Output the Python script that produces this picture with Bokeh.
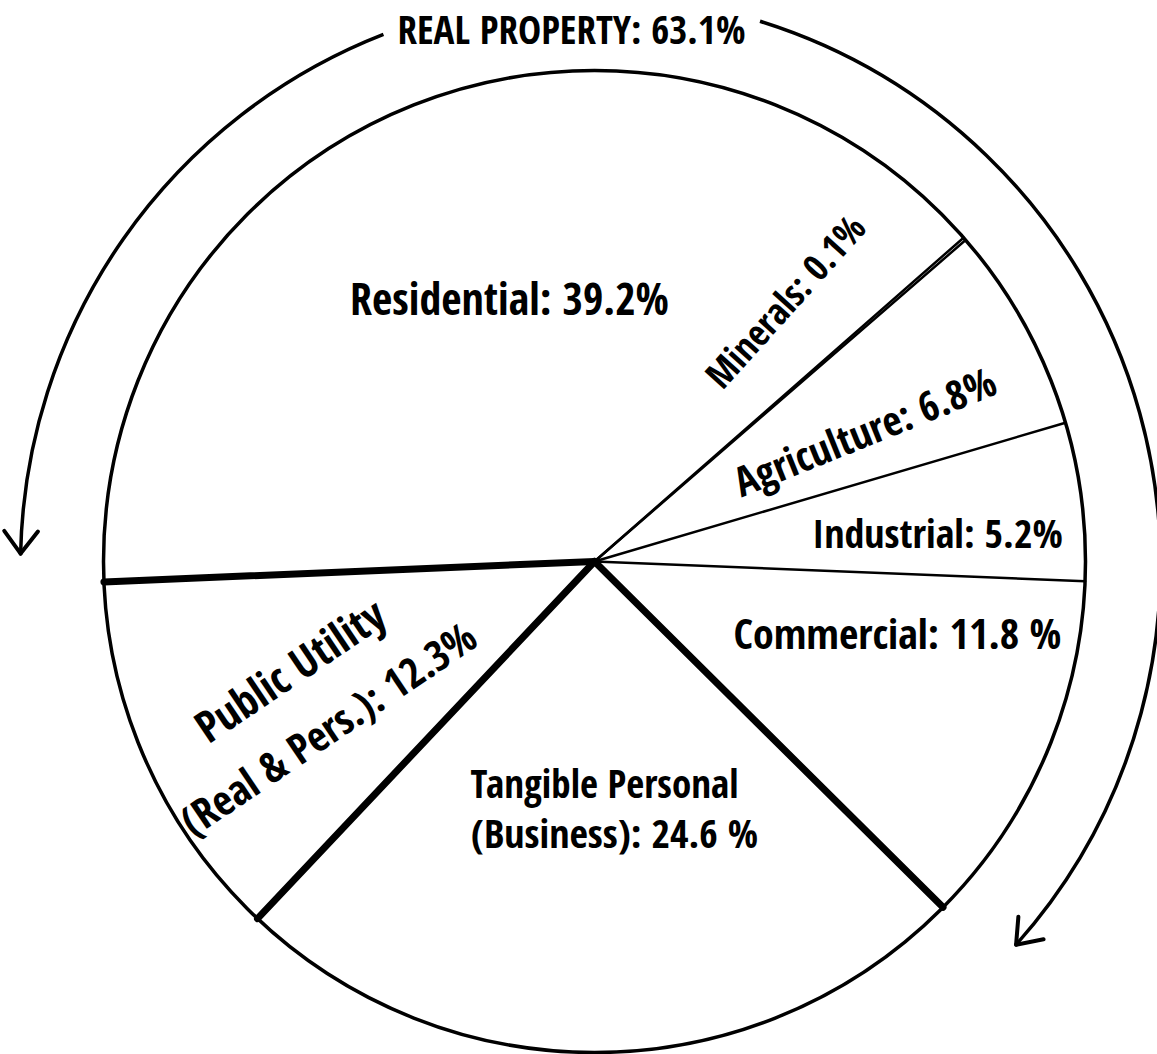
import math
from bokeh.plotting import figure
from bokeh.embed import file_html
from bokeh.resources import INLINE
from bokeh.core.properties import value

# ---- data ----
categories = ["Commercial", "Tangible Personal", "Public Utility", "Residential",
              "Minerals", "Agriculture", "Industrial"]
shares = [11.8, 24.6, 12.3, 39.2, 0.1, 6.8, 5.2]
groups = ["Real", "Personal", "Utility", "Real", "Real", "Real", "Real"]
title_label = "REAL PROPERTY"

# ---- label layout (page pixel coords, rotation in degrees, font px) ----
label_lines = [
    ("Residential: 39.2%", 509, 297, 0, 44),
    ("Minerals: 0.1%", 784, 300, 48, 37),
    ("Agriculture: 6.8%", 864, 430, 22, 41),
    ("Industrial: 5.2%", 937, 532, 0, 40),
    ("Commercial: 11.8 %", 897, 632, 0, 42),
    ("Public Utility", 289, 669, 34, 44),
    ("(Real & Pers.): 12.3%", 327, 727, 34, 42),
    ("Tangible Personal", 604, 782, 0, 39),
    ("(Business): 24.6 %", 614, 832, 0, 40),
]

W, H = 1157, 1054


def Y(py):
    return H - py


FONT = value("Open Sans Condensed")

p = figure(width=W, height=H, x_range=(0, W), y_range=(0, H),
           output_backend="svg", toolbar_location=None,
           x_axis_location=None, y_axis_location=None, min_border=0)
p.grid.visible = False
p.outline_line_color = None
p.background_fill_color = "white"
p.border_fill_color = "white"

# pie geometry
cx, cy, r = 594, Y(561), 491
theta0 = -2.3  # degrees, east boundary

bounds = [theta0]
acc = 0.0
for s in shares:
    acc += s
    bounds.append(theta0 - 3.6 * acc)

# wedges (clockwise order)
p.wedge(x=[cx] * len(shares), y=[cy] * len(shares), radius=r,
        start_angle=[math.radians(b) for b in bounds[1:]],
        end_angle=[math.radians(b) for b in bounds[:-1]],
        direction="anticlock", fill_color="white", line_color=None)

# radial dividers
n = len(shares)
x1s, y1s, widths = [], [], []
for i in range(n):
    b = math.radians(bounds[i])
    bold = groups[i - 1] != groups[i]
    x1s.append(cx + r * math.cos(b))
    y1s.append(cy + r * math.sin(b))
    widths.append(7 if bold else 2.5)
p.segment(x0=[cx] * n, y0=[cy] * n, x1=x1s, y1=y1s, line_width=widths,
          line_color="black", line_cap="round")

# outline circle
p.circle(x=[cx], y=[cy], radius=r, fill_color=None, line_color="black", line_width=3.5)

# outer arrows around real property
ax, ay, R = 590, Y(565), 570
left_start, left_end = 111.3, 178.8
right_start, right_end = 72.7, -41.7
p.arc(x=[ax], y=[ay], radius=R, start_angle=math.radians(left_start),
      end_angle=math.radians(left_end), direction="anticlock",
      line_color="black", line_width=3.5)
p.arc(x=[ax], y=[ay], radius=R, start_angle=math.radians(right_start),
      end_angle=math.radians(right_end), direction="clock",
      line_color="black", line_width=3.5)


def barbs(a_deg, ccw, length=28, spread=37):
    a = math.radians(a_deg)
    tx, ty = ax + R * math.cos(a), ay + R * math.sin(a)
    if ccw:
        bx, by = math.sin(a), -math.cos(a)
    else:
        bx, by = -math.sin(a), math.cos(a)
    xs0, ys0, xs1, ys1 = [], [], [], []
    for sgn in (1, -1):
        s = math.radians(spread * sgn)
        dx = bx * math.cos(s) - by * math.sin(s)
        dy = bx * math.sin(s) + by * math.cos(s)
        xs0.append(tx)
        ys0.append(ty)
        xs1.append(tx + length * dx)
        ys1.append(ty + length * dy)
    return xs0, ys0, xs1, ys1


for a_deg, ccw in ((left_end, True), (right_end, False)):
    x0, y0, x1, y1 = barbs(a_deg, ccw)
    p.segment(x0=x0, y0=y0, x1=x1, y1=y1, line_color="black", line_width=4,
              line_cap="round")

# title
real_total = sum(s for s, g in zip(shares, groups) if g == "Real")
p.text(x=[571], y=[Y(28)], text=[f"{title_label}: {real_total:.1f}%"],
       text_font=FONT, text_font_style="bold", text_font_size="39px",
       text_align="center", text_baseline="middle", text_color="black")

# slice labels
p.text(x=[l[1] for l in label_lines], y=[Y(l[2]) for l in label_lines],
       text=[l[0] for l in label_lines],
       angle=[math.radians(l[3]) for l in label_lines],
       text_font=FONT, text_font_style="bold",
       text_font_size=[f"{l[4]}px" for l in label_lines],
       text_align="center", text_baseline="middle", text_color="black")

open("out.html", "w").write(file_html(p, INLINE))
